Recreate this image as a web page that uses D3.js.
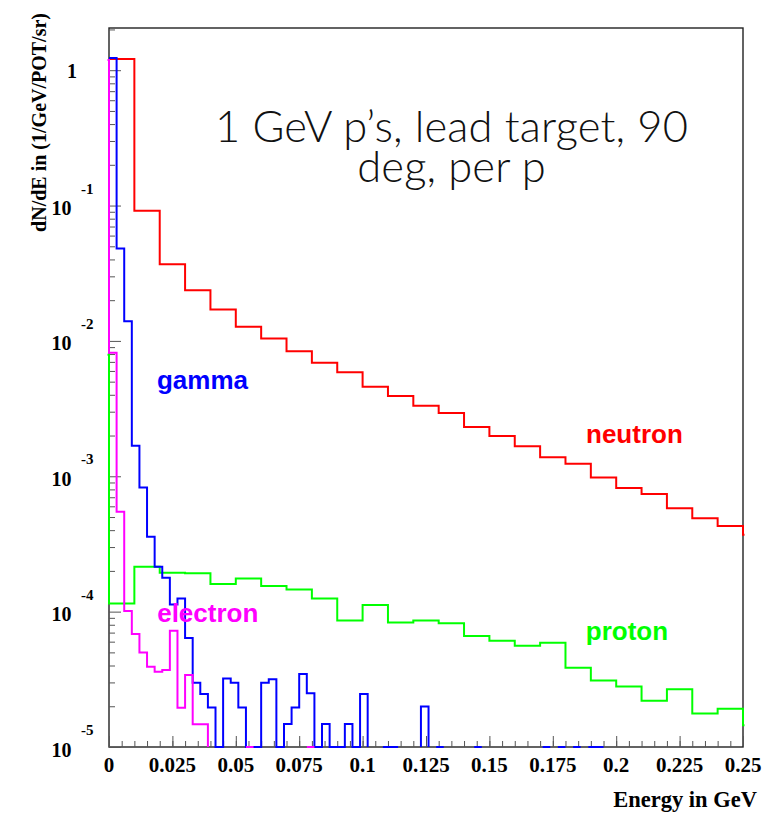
<!DOCTYPE html>
<html>
<head>
<meta charset="utf-8">
<script src="https://cdn.jsdelivr.net/npm/d3@7"></script>
<style>
  body { margin: 0; background: #fff; }
  #wrap { position: relative; width: 782px; height: 814px; }
  .tick-label { font-family: "Liberation Serif", "Times New Roman", serif; font-weight: bold; fill: #000; }
  .series-label { font-family: "Liberation Sans", Arial, sans-serif; font-weight: bold; }
  #title { position: absolute; font-family: Lato, "Liberation Sans", Arial, sans-serif; font-weight: 300;
           color: #111; text-align: center; white-space: nowrap; }
</style>
</head>
<body>
<div id="wrap"><svg id="chart" width="782" height="814"></svg></div>
<script>
// bin widths in GeV
const coarseBin = 0.01;   // neutron, proton
const fineBin = 0.003;    // gamma, electron

// dN/dE per bin (0 = empty bin, 6e-6 = below the axis floor)
const neutronValues = [1.21, 0.0914, 0.0369, 0.0237, 0.0171, 0.0127, 0.0104, 0.0084, 0.0069, 0.00586,
  0.00458, 0.00391, 0.00332, 0.00294, 0.00231, 0.00198, 0.00167, 0.00138, 0.00124, 0.00098,
  0.00082, 0.00074, 0.00058, 0.00049, 0.00043];
const protonValues = [1.15e-4, 2.15e-4, 1.94e-4, 1.92e-4, 1.60e-4, 1.76e-4, 1.55e-4, 1.46e-4, 1.25e-4, 8.6e-5,
  1.12e-4, 8.3e-5, 8.6e-5, 8.2e-5, 6.6e-5, 6.1e-5, 5.6e-5, 5.9e-5, 3.85e-5, 3.1e-5,
  2.8e-5, 2.2e-5, 2.67e-5, 1.77e-5, 1.92e-5];
const gammaValues = [1.23, 0.0482, 0.0140, 0.00168, 0.000828, 0.000357, 0.000215, 0.000178, 1.13e-4, 1.25e-4,
  6.4e-5, 2.98e-5, 2.46e-5, 1.96e-5, 6e-6, 3.21e-5, 2.98e-5, 1.96e-5, 6e-6, 6e-6,
  2.98e-5, 3.16e-5, 6e-6, 1.48e-5, 1.96e-5, 3.46e-5, 2.49e-5, 6e-6, 1.48e-5, 6e-6,
  6e-6, 1.48e-5, 6e-6, 2.46e-5, 0, 0, 6e-6, 6e-6, 0, 0,
  0, 1.99e-5, 0, 6e-6, 0, 0, 0, 0, 6e-6, 0,
  0, 0, 0, 0, 0, 0, 0, 6e-6, 0, 6e-6,
  0, 6e-6, 0, 6e-6, 6e-6];
const electronValues = [0.00817, 5.47e-4, 1.01e-4, 6.84e-5, 5.0e-5, 3.92e-5, 3.6e-5, 3.7e-5, 7.23e-5, 1.95e-5,
  3.4e-5, 1.47e-5, 1.47e-5, 0, 0, 0, 0, 0, 6e-6, 0,
  0, 0, 0, 0, 0, 0, 6e-6];
// content of the bins just outside the drawn range [below 0, above 0.25] (null = none)
const neutronOutside = [null, 3.7e-4];
const protonOutside = [0.0079, 1.45e-5];
const gammaOutside = [null, null];
const electronOutside = [1.19, null];

const seriesNames = ["neutron", "proton", "gamma", "electron"];

const xTickValues = [0, 0.025, 0.05, 0.075, 0.1, 0.125, 0.15, 0.175, 0.2, 0.225, 0.25];
const xTickLabels = ["0", "0.025", "0.05", "0.075", "0.1", "0.125", "0.15", "0.175", "0.2", "0.225", "0.25"];
const yTickValues = [1, 1e-1, 1e-2, 1e-3, 1e-4, 1e-5];
const yTickExponents = ["", "-1", "-2", "-3", "-4", "-5"];

const titleLines = ["1 GeV p\u2019s, lead target, 90", "deg, per p"];
const xTitle = "Energy in GeV";
const yTitle = "dN/dE in (1/GeV/POT/sr)";

// ---- drawing ----
const colors = { neutron: "#ff0000", proton: "#00ff00", gamma: "#0000ff", electron: "#ff00ff" };
const series = [
  { name: "neutron", values: neutronValues, width: coarseBin, outside: neutronOutside },
  { name: "proton", values: protonValues, width: coarseBin, outside: protonOutside },
  { name: "gamma", values: gammaValues, width: fineBin, outside: gammaOutside },
  { name: "electron", values: electronValues, width: fineBin, outside: electronOutside }
];

const pLeft = 109, pRight = 743, pTop = 28, pBottom = 747;
const svg = d3.select("#chart");

const x = d3.scaleLinear().domain([0, 0.25]).range([pLeft, pRight]);
const y = d3.scaleLog().domain([1e-5, 2.05]).range([pBottom, pTop]).clamp(true);
const yv = v => v > 0 ? y(v) : pBottom;

// frame
svg.append("rect")
   .attr("x", pLeft).attr("y", pTop)
   .attr("width", pRight - pLeft).attr("height", pBottom - pTop)
   .attr("fill", "none").attr("stroke", "#222").attr("stroke-width", 1.4);

// ticks (inside the frame)
const minorX = d3.range(0, 0.2501, 0.005);
svg.append("g").attr("transform", "translate(0," + pBottom + ")")
   .call(d3.axisBottom(x).tickValues(minorX).tickSizeInner(-6).tickSizeOuter(0).tickFormat(""))
   .call(g => g.select(".domain").remove());
svg.append("g").attr("transform", "translate(0," + pBottom + ")")
   .call(d3.axisBottom(x).tickValues(xTickValues).tickSizeInner(-11).tickSizeOuter(0).tickFormat(""))
   .call(g => g.select(".domain").remove());

const minorY = y.ticks().filter(t => yTickValues.indexOf(t) < 0 && t < 2.05);
svg.append("g").attr("transform", "translate(" + pLeft + ",0)")
   .call(d3.axisLeft(y).tickValues(minorY).tickSizeInner(-6).tickSizeOuter(0).tickFormat(""))
   .call(g => g.select(".domain").remove());
svg.append("g").attr("transform", "translate(" + pLeft + ",0)")
   .call(d3.axisLeft(y).tickValues(yTickValues).tickSizeInner(-12).tickSizeOuter(0).tickFormat(""))
   .call(g => g.select(".domain").remove());
svg.selectAll(".tick line").attr("stroke", "#555");

// tick labels
svg.selectAll(".xlab").data(xTickValues).enter().append("text")
   .attr("class", "tick-label")
   .attr("x", d => x(d)).attr("y", pBottom + 25)
   .attr("text-anchor", "middle").attr("font-size", 21)
   .text((d, i) => xTickLabels[i]);

yTickValues.forEach((v, i) => {
  if (yTickExponents[i] === "") {
    svg.append("text").attr("class", "tick-label")
       .attr("x", 67).attr("y", y(v) + 8).attr("font-size", 20).text("1");
  } else {
    svg.append("text").attr("class", "tick-label")
       .attr("x", 51.5).attr("y", y(v) + 9.5).attr("font-size", 20).text("10");
    svg.append("text").attr("class", "tick-label")
       .attr("x", 81).attr("y", y(v) - 12).attr("font-size", 15).text(yTickExponents[i]);
  }
});

// histograms
svg.append("clipPath").attr("id", "plotclip")
   .append("rect").attr("x", pLeft - 1.5).attr("y", pTop - 1.5)
   .attr("width", pRight - pLeft + 3).attr("height", pBottom - pTop + 3);

function histSegments(values, width, outside) {
  const bins = values.map((v, i) => ({ x0: i * width, x1: (i + 1) * width, v: v }));
  if (outside[0] !== null) bins.unshift({ x0: -width, x1: 0, v: outside[0] });
  if (outside[1] !== null) bins.push({ x0: values.length * width, x1: (values.length + 1) * width, v: outside[1] });
  const segs = [];
  let cur = null;
  bins.forEach((b, i) => {
    if (b.v > 0) {
      if (!cur) {
        cur = [];
        segs.push(cur);
        if (!(i === 0 && outside[0] === null)) cur.push([b.x0, 0]);
      }
      cur.push([b.x0, b.v], [b.x1, b.v]);
    } else if (cur) {
      cur.push([b.x0, 0]);
      cur = null;
    }
  });
  if (cur) cur.push([cur[cur.length - 1][0], 0]);
  return segs;
}

const line = d3.line().x(d => x(d[0])).y(d => yv(d[1]));
const hg = svg.append("g").attr("clip-path", "url(#plotclip)");
series.forEach(s => {
  hg.append("g").selectAll("path")
    .data(histSegments(s.values, s.width, s.outside))
    .enter().append("path")
    .attr("d", line)
    .attr("fill", "none")
    .attr("stroke", colors[s.name])
    .attr("stroke-width", 2);
});

// series labels
const labelPos = {
  neutron: [0.1881, 1.75e-3], proton: [0.188, 6.17e-5],
  gamma: [0.0189, 4.41e-3], electron: [0.019, 8.43e-5]
};
seriesNames.forEach(n => {
  svg.append("text").attr("class", "series-label")
     .attr("x", x(labelPos[n][0])).attr("y", y(labelPos[n][1]))
     .attr("font-size", 26).attr("fill", colors[n])
     .text(n);
});

// title block (two lines, light face); line 1 spans ~473px centred at x=451.5
const titleSize = 43.5, titleLead = 40.5;
const title = d3.select("#wrap").append("div").attr("id", "title")
   .style("font-size", titleSize + "px").style("line-height", titleLead + "px")
   .html(titleLines.join("<br>"));
const probe = d3.select("#wrap").append("span").attr("id", "title")
   .style("font-size", titleSize + "px").style("visibility", "hidden").text(titleLines[0]);
const w1 = probe.node().getBoundingClientRect().width;
probe.remove();
const ls = Math.max(0, (473 - w1) / titleLines[0].length);
title.style("letter-spacing", ls + "px");
const tw = 560;
// baseline of line 1 at y=141.7: half-leading + ascent of Lato (0.987em, descent 0.213em)
const firstBaseline = (titleLead - titleSize * 1.2) / 2 + titleSize * 0.987;
title.style("width", tw + "px")
     .style("left", (451.5 - tw / 2 + ls / 2) + "px")
     .style("top", (141.7 - firstBaseline) + "px");

svg.append("text").attr("class", "tick-label")
   .attr("x", 757).attr("y", 807).attr("text-anchor", "end")
   .attr("font-size", 22.5).text(xTitle);

svg.append("text").attr("class", "tick-label")
   .attr("transform", "translate(46,13) rotate(-90)")
   .attr("text-anchor", "end").attr("font-size", 20)
   .text(yTitle);
</script>
</body>
</html>
